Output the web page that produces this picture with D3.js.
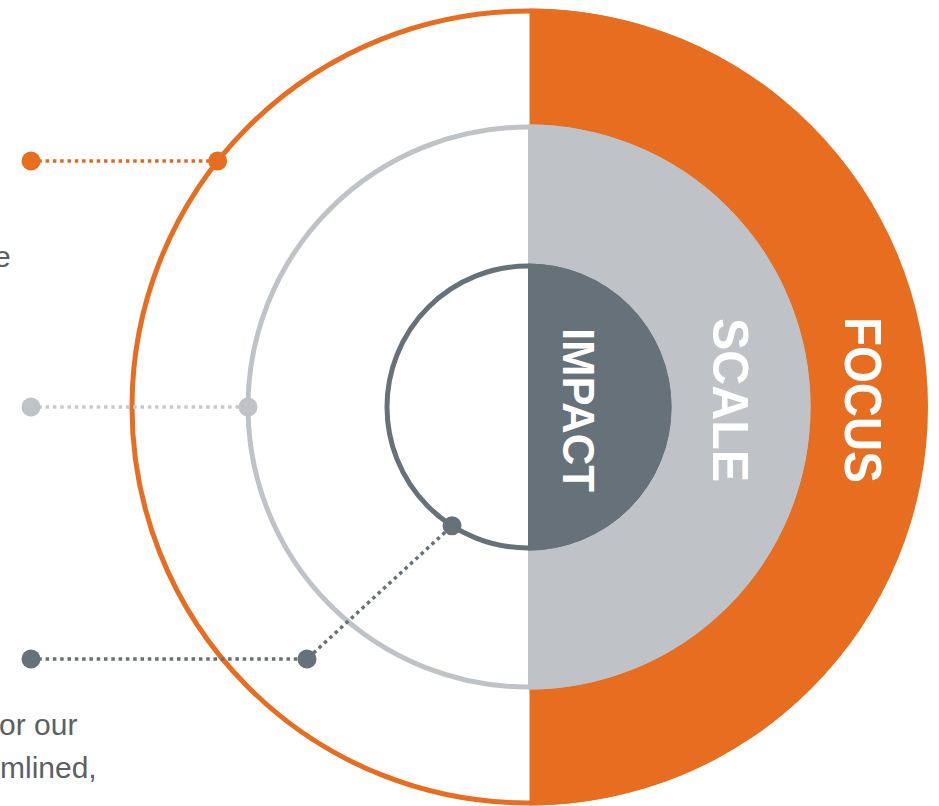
<!DOCTYPE html>
<html>
<head>
<meta charset="utf-8">
<script src="https://cdn.jsdelivr.net/npm/d3@7"></script>
<style>
  html, body { margin: 0; padding: 0; background: #ffffff; overflow: hidden; }
  svg { display: block; }
</style>
</head>
<body>
<svg id="chart" width="939" height="806"></svg>
<script>
// ---- data ----
const ringLabels = ["IMPACT", "SCALE", "FOCUS"];        // inner -> outer
const ringLevels = [1, 2, 3];
const calloutAngles = [-147.4, -90, -51.6];             // degrees clockwise from 12 o'clock, per ring
const sideTextLines = ["e", "or our", "mlined,"];

// ---- layout / style ----
const W = 939, H = 806;
const cx = 528, cy = 407;
const colors = { IMPACT: "#67717a", SCALE: "#bfc3c8", FOCUS: "#e76e20" };
const lineColors = { IMPACT: "#67717a", SCALE: "#c6cacf", FOCUS: "#e2691f" };

const svg = d3.select("#chart");
const g = svg.append("g").attr("transform", `translate(${cx},${cy})`);

// radial scale: ring level -> radius
const rScale = d3.scaleLinear().domain([0, 1, 2, 3]).range([0, 141, 280, 396]);

const rings = ringLabels.map((label, i) => ({
  label, level: ringLevels[i], angle: calloutAngles[i], r: rScale(ringLevels[i])
}));

// right half filled discs (outer first)
const halfArc = d3.arc().innerRadius(0).startAngle(0).endAngle(Math.PI);
g.selectAll("path.half")
  .data(rings.slice().reverse())
  .join("path")
  .attr("class", "half")
  .attr("transform", d => d.label === "FOCUS" ? "translate(1.5,0)" : null)
  .attr("d", d => halfArc.outerRadius(d.r + 2.5)())
  .attr("fill", d => colors[d.label]);

// full outline circles
g.selectAll("circle.ring")
  .data(rings)
  .join("circle")
  .attr("class", "ring")
  .attr("r", d => d.r)
  .attr("fill", "none")
  .attr("stroke", d => colors[d.label])
  .attr("stroke-width", 5);

// labels (rotated, reading top to bottom)
const labelStyle = {
  FOCUS:  { base: 845, cyOff: -7, size: 52, weight: "bold", len: 166 },
  SCALE:  { base: 713, cyOff: -7, size: 50, weight: "bold", len: 164 },
  IMPACT: { base: 563, cyOff: 3,  size: 45, weight: "bold", len: 164 }
};
svg.selectAll("text.ringlabel")
  .data(rings)
  .join("text")
  .attr("class", "ringlabel")
  .attr("transform", d => `translate(${labelStyle[d.label].base},${cy + labelStyle[d.label].cyOff}) rotate(90)`)
  .attr("text-anchor", "middle")
  .attr("font-family", "'Liberation Sans', Arial, Helvetica, sans-serif")
  .attr("font-size", d => labelStyle[d.label].size)
  .attr("font-weight", d => labelStyle[d.label].weight)
  .attr("textLength", d => labelStyle[d.label].len)
  .attr("lengthAdjust", "spacingAndGlyphs")
  .attr("fill", "#ffffff")
  .text(d => d.label);

// callouts
const leftX = 31;
const elbow = { x: 307, y: 659 };
const pointOn = d => {
  const a = d.angle * Math.PI / 180;
  return [cx + d.r * Math.sin(a), cy - d.r * Math.cos(a)];
};
const callouts = rings.map(d => {
  const p = pointOn(d);
  let pts;
  if (d.label === "IMPACT") {
    pts = [[leftX, elbow.y], [elbow.x, elbow.y], p];
  } else {
    pts = [[leftX, p[1]], p];
  }
  return { label: d.label, pts, dots: pts };
});

const line = d3.line();
const cg = svg.append("g");
cg.selectAll("path.callout")
  .data(callouts)
  .join("path")
  .attr("class", "callout")
  .attr("d", d => line(d.pts))
  .attr("fill", "none")
  .attr("stroke", d => lineColors[d.label])
  .attr("stroke-width", 3.5)
  .attr("stroke-dasharray", "3.5,3.8");

cg.selectAll("g.dots")
  .data(callouts)
  .join("g")
  .attr("class", "dots")
  .selectAll("circle")
  .data(d => d.dots.map(p => ({ p, label: d.label })))
  .join("circle")
  .attr("cx", d => d.p[0])
  .attr("cy", d => d.p[1])
  .attr("r", 9.5)
  .attr("fill", d => colors[d.label]);

// side text (fragments of a paragraph cropped at the left edge)
const sideTextPos = [{ x: -6, y: 267 }, { x: -1, y: 735 }, { x: 0, y: 778 }];
svg.selectAll("text.side")
  .data(sideTextLines)
  .join("text")
  .attr("class", "side")
  .attr("x", (d, i) => sideTextPos[i].x)
  .attr("y", (d, i) => sideTextPos[i].y)
  .attr("text-anchor", "start")
  .attr("font-family", "'Liberation Sans', Arial, Helvetica, sans-serif")
  .attr("font-size", 30)
  .attr("fill", "#5b6065")
  .text(d => d);
</script>
</body>
</html>
